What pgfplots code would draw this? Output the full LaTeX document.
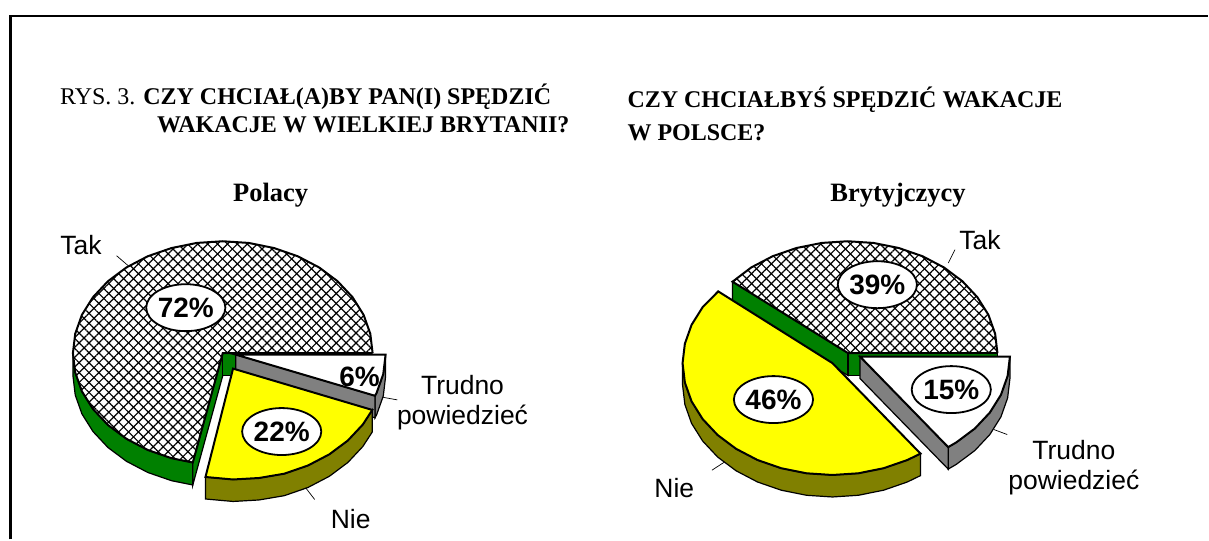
\documentclass[border=0pt]{standalone}
\usepackage{fontspec}
\setmainfont{Liberation Serif}
\newfontfamily\arial{Liberation Sans}
\usepackage{pgfplots}
\pgfplotsset{compat=1.18}
\usetikzlibrary{shapes.geometric,patterns.meta}
\definecolor{pgreen}{HTML}{008000}
\definecolor{polive}{HTML}{808000}
\definecolor{pgray}{HTML}{808080}
\definecolor{pyellow}{HTML}{FFFF00}

% outlines of the pie slices, in picture pixels, y downwards
\def\takL{(373,353.5)(370.7,334.1)(364,315.2)(352.9,297.5)(337.9,281.5)(319.4,267.7)(298,256.5)(274.3,248.3)(249,243.2)(223,241.5)(197,243.2)(171.7,248.3)(148,256.5)(126.6,267.7)(108.1,281.5)(93.1,297.5)(82,315.2)(75.3,334.1)(73,353.5)(75.3,372.9)(82,391.8)(93.1,409.5)(108.1,425.5)(126.6,439.3)(148,450.5)(171.7,458.7)(193,463)(223,353.5)(373,353.5)}
\def\takR{(998.5,353.5)(996.2,334.1)(989.5,315.2)(978.4,297.5)(963.4,281.5)(944.9,267.7)(923.5,256.5)(899.8,248.3)(874.5,243.2)(848.5,241.5)(822.5,243.2)(797.2,248.3)(773.5,256.5)(752.1,267.7)(733.3,282)(849,353.5)(998.5,353.5)}

\tikzset{
  pct/.style={ellipse,draw=black,fill=white,line width=1.8pt,minimum width=79pt,minimum height=47pt,inner sep=0pt,font=\arial\bfseries\fontsize{28}{28}\selectfont},
  lbl/.style={font=\arial\fontsize{26.5}{30}\selectfont,align=center},
  ttl/.style={font=\fontsize{24}{25}\selectfont\bfseries,anchor=west,inner sep=0pt},
  hd/.style={font=\fontsize{26.5}{28}\selectfont\bfseries},
}

\begin{document}
\begin{tikzpicture}
\begin{axis}[
    scale only axis,
    width=1209pt,
    height=540pt,
    xmin=0, xmax=1209,
    ymin=0, ymax=540,
    y dir=reverse,
    axis lines=none,
    clip=false,
]
\path (axis cs:0,0) rectangle (axis cs:1209,540);
% frame
\addplot[black,line width=2.6pt,line cap=butt] coordinates {(10.5,540)(10.5,16)(1209,16)};

% ---- Polacy ----
\addplot[draw=black,fill=pgreen,line width=1.2pt] coordinates {(73,353.5)(75.3,372.9)(82,391.8)(93.1,409.5)(108.1,425.5)(126.6,439.3)(148,450.5)(171.7,458.7)(193,463)(193,485.5)(171.7,481.2)(148,473)(126.6,461.8)(108.1,448)(93.1,432)(82,414.3)(75.3,395.4)(73,376)} -- cycle;
\addplot[draw=black,fill=pgreen,line width=1.2pt] coordinates {(193,463)(193,485.5)(223,376)(223,353.5)} -- cycle;
\addplot[draw=black,fill=pgreen,line width=1.2pt] coordinates {(223,353.5)(240,353.5)(240,376)(223,376)} -- cycle;
\addplot[draw=none,fill=white] coordinates {\takL} -- cycle;
\addplot[draw=none,pattern={Lines[angle=45,distance=7pt,line width=1.2pt]},pattern color=black] coordinates {\takL} -- cycle;
\addplot[draw=none,pattern={Lines[angle=-45,distance=7pt,line width=1.2pt]},pattern color=black] coordinates {\takL} -- cycle;
\addplot[draw=black,line width=2pt] coordinates {\takL};
% Trudno powiedziec, 6%
\addplot[draw=black,fill=pgray,line width=1.2pt] coordinates {(386,355)(383.7,374.4)(377,393.3)(375.4,396.2)(375.4,418.2)(377,415.3)(383.7,396.4)(386,377)} -- cycle;
\addplot[draw=black,fill=pgray,line width=1.2pt] coordinates {(236,355)(375.4,396.2)(375.4,418.2)(236,377)} -- cycle;
\addplot[draw=black,fill=white,line width=2pt] coordinates {(236,355)(386,355)(383.7,374.4)(377,393.3)(375.4,396.2)} -- cycle;
% Nie, 22%
\addplot[draw=black,fill=polive,line width=1.2pt] coordinates {(372.7,410.4)(363.2,425)(348.2,441)(329.7,454.8)(308.3,466)(284.6,474.2)(259.3,478.5)(233.3,480)(205.7,477.5)(205.7,499.5)(233.3,502)(259.3,500.5)(284.6,496.2)(308.3,488)(329.7,476.8)(348.2,463)(363.2,447)(372.7,432.4)} -- cycle;
\addplot[draw=black,fill=pyellow,line width=2pt] coordinates {(233.3,369)(372.7,410.4)(363.2,425)(348.2,441)(329.7,454.8)(308.3,466)(284.6,474.2)(259.3,478.5)(233.3,480)(205.7,477.5)} -- cycle;

% ---- Brytyjczycy ----
\addplot[draw=black,fill=pgreen,line width=1.2pt] coordinates {(733.3,282)(733.3,304.5)(849,376)(849,353.5)} -- cycle;
\addplot[draw=black,fill=pgreen,line width=1.2pt] coordinates {(849,353.5)(998.5,353.5)(998.5,376)(849,376)} -- cycle;
\addplot[draw=none,fill=white] coordinates {\takR} -- cycle;
\addplot[draw=none,pattern={Lines[angle=45,distance=7pt,line width=1.2pt]},pattern color=black] coordinates {\takR} -- cycle;
\addplot[draw=none,pattern={Lines[angle=-45,distance=7pt,line width=1.2pt]},pattern color=black] coordinates {\takR} -- cycle;
\addplot[draw=black,line width=2pt] coordinates {\takR};
% Trudno powiedziec, 15%
\addplot[draw=black,fill=pgray,line width=1.2pt] coordinates {(1011,357)(1008.7,376.4)(1002,395.3)(990.9,413)(975.9,429)(957.4,442.8)(949.2,447.6)(949.2,469.6)(957.4,464.8)(975.9,451)(990.9,435)(1002,417.3)(1008.7,398.4)(1011,379)} -- cycle;
\addplot[draw=black,fill=pgray,line width=1.2pt] coordinates {(861,357)(949.2,447.6)(949.2,469.6)(861,379)} -- cycle;
\addplot[draw=black,fill=white,line width=2pt] coordinates {(861,357)(1011,357)(1008.7,376.4)(1002,395.3)(990.9,413)(975.9,429)(957.4,442.8)(949.2,447.6)} -- cycle;
% Nie, 46%
\addplot[draw=black,fill=polive,line width=1.2pt] coordinates {(921.5,454.1)(908.3,460.5)(884.6,468.7)(859.3,473.8)(833.3,475.5)(807.3,473.8)(782,468.7)(758.3,460.5)(736.9,449.3)(718.4,435.5)(703.4,419.5)(692.3,401.8)(685.6,382.9)(683.3,363.5)(683.3,385.5)(685.6,404.9)(692.3,423.8)(703.4,441.5)(718.4,457.5)(736.9,471.3)(758.3,482.5)(782,490.7)(807.3,495.8)(833.3,497.5)(859.3,495.8)(884.6,490.7)(908.3,482.5)(921.5,476.1)} -- cycle;
\addplot[draw=black,fill=pyellow,line width=2pt] coordinates {(833.3,363.5)(921.5,454.1)(908.3,460.5)(884.6,468.7)(859.3,473.8)(833.3,475.5)(807.3,473.8)(782,468.7)(758.3,460.5)(736.9,449.3)(718.4,435.5)(703.4,419.5)(692.3,401.8)(685.6,382.9)(683.3,363.5)(685.6,344.1)(692.3,325.2)(703.4,307.5)(719,291.7)} -- cycle;

% leader lines
\addplot[black,line width=0.7pt] coordinates {(116.7,256)(128,265.7)};
\addplot[black,line width=0.7pt] coordinates {(306,488.3)(315,500)};
\addplot[black,line width=0.7pt] coordinates {(383.3,397.7)(397.7,400.3)};
\addplot[black,line width=0.7pt] coordinates {(956,250)(949.3,263.3)};
\addplot[black,line width=0.7pt] coordinates {(712.7,470.7)(725,462.7)};
\addplot[black,line width=0.7pt] coordinates {(995,430)(1008.3,435)};

% percent labels
\node[pct] at (axis cs:186,308) {72\%};
\node[pct] at (axis cs:282,432) {22\%};
\node[font=\arial\bfseries\fontsize{28}{28}\selectfont] at (axis cs:360,377) {6\%};
\node[pct] at (axis cs:878.3,285) {39\%};
\node[pct] at (axis cs:774.3,400) {46\%};
\node[pct] at (axis cs:952.3,390) {15\%};

% category labels
\node[lbl] at (axis cs:81,245) {Tak};
\node[lbl] at (axis cs:351,520) {Nie};
\node[lbl] at (axis cs:463,403) {Trudno\\powiedzieć};
\node[lbl] at (axis cs:981,240) {Tak};
\node[lbl] at (axis cs:675,489) {Nie};
\node[lbl] at (axis cs:1075,468) {Trudno\\powiedzieć};

% titles
\node[ttl] at (axis cs:60,96.5) {\mdseries RYS. 3. \bfseries CZY CHCIAŁ(A)BY PAN(I) SPĘDZIĆ};
\node[ttl] at (axis cs:157,125) {WAKACJE W WIELKIEJ BRYTANII?};
\node[ttl] at (axis cs:628,100) {CZY CHCIAŁBYŚ SPĘDZIĆ WAKACJE};
\node[ttl] at (axis cs:628,132.5) {W POLSCE?};
\node[hd] at (axis cs:271,195) {Polacy};
\node[hd] at (axis cs:899,195) {Brytyjczycy};
\end{axis}
\end{tikzpicture}
\end{document}
